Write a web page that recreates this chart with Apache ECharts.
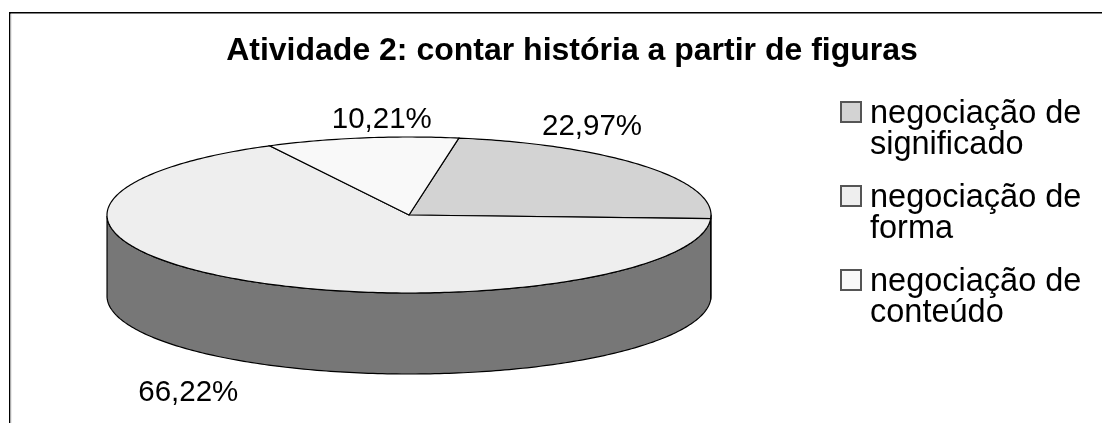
<!DOCTYPE html>
<html>
<head>
<meta charset="utf-8">
<title>Atividade 2</title>
<style>
html, body { margin: 0; padding: 0; background: #fff; }
#chart { width: 1102px; height: 423px; }
</style>
<script src="https://cdn.jsdelivr.net/npm/echarts@6/dist/echarts.min.js"></script>
</head>
<body>
<div id="chart"></div>
<script>
var categories = ['negociação de\nsignificado', 'negociação de\nforma', 'negociação de\nconteúdo'];
var values = [22.97, 66.22, 10.21];
var valueLabels = ['22,97%', '66,22%', '10,21%'];
var topColors = ['#d3d3d3', '#eeeeee', '#f9f9f9'];
var wallColors = ['#6a6a6a', '#777777', '#7c7c7c'];

// pixel offset of each label from the rim point at the middle of its slice
var labelOffsets = [[-52, -39], [-58, 112], [20, -18]];

var cx = 409, cy = 215, rx = 302, ry = 78, depth = 81;
var fontName = '"Liberation Sans", Arial, sans-serif';

var chart = echarts.init(document.getElementById('chart'));

// printed percentages only add up to 99.4, the angle axis spans their sum
var total = 0;
values.forEach(function (v) { total += v; });

// polar gives a true circle, squash it to the tilted ellipse afterwards
function tilt(p) {
    return [p[0], cy + (p[1] - cy) * ry / rx];
}

function makeRenderItem(index) {
    return function (params, api) {
        var start = api.value(0);
        var end = api.value(1);
        var rim = [];
        for (var v = start; v < end; v += 0.25) {
            rim.push(tilt(api.coord([1, v])));
        }
        rim.push(tilt(api.coord([1, end])));
        var top = [tilt(api.coord([0, start]))].concat(rim);

        var children = [];
        // side wall, only where the rim faces the viewer
        var front = rim.filter(function (p) {
            return p[1] >= cy;
        });
        if (front.length > 1) {
            var lower = front.map(function (p) {
                return [p[0], p[1] + depth];
            }).reverse();
            children.push({
                type: 'polygon',
                shape: { points: front.concat(lower) },
                style: { fill: wallColors[index], stroke: '#000', lineWidth: 1.2 }
            });
        }
        children.push({
            type: 'polygon',
            shape: { points: top },
            style: { fill: topColors[index], stroke: '#000', lineWidth: 1.2 }
        });
        var mid = tilt(api.coord([1, (start + end) / 2]));
        children.push({
            type: 'text',
            style: {
                text: valueLabels[index],
                x: mid[0] + labelOffsets[index][0],
                y: mid[1] + labelOffsets[index][1],
                fill: '#000',
                font: '29.5px ' + fontName,
                align: 'center',
                verticalAlign: 'middle'
            }
        });
        return { type: 'group', children: children };
    };
}

var seriesList = [];
var running = 0;
for (var i = 0; i < values.length; i++) {
    seriesList.push({
        name: categories[i],
        type: 'custom',
        coordinateSystem: 'polar',
        renderItem: makeRenderItem(i),
        itemStyle: { color: topColors[i], borderColor: '#555', borderWidth: 1 },
        silent: true,
        animation: false,
        clip: false,
        data: [[running, running + values[i]]],
        encode: { angle: 0 }
    });
    running += values[i];
}

var option = {
    backgroundColor: '#fff',
    animation: false,
    title: {
        text: 'Atividade 2: contar história a partir de figuras',
        left: 572,
        top: 35,
        padding: 0,
        textAlign: 'center',
        textStyle: { fontFamily: fontName, fontSize: 32, fontWeight: 'bold', color: '#000' }
    },
    legend: {
        orient: 'vertical',
        left: 840,
        top: 97.5,
        padding: 0,
        itemWidth: 20,
        itemHeight: 20,
        itemGap: 20,
        icon: 'rect',
        selectedMode: false,
        data: categories,
        // rich text so the top padding moves the lines down next to the box
        formatter: function (name) {
            return name.split('\n').map(function (line) {
                return '{t|' + line + '}';
            }).join('\n');
        },
        textStyle: {
            padding: [35, 0, 0, 4],
            rich: {
                t: { fontFamily: fontName, fontSize: 32.5, lineHeight: 31, color: '#000' }
            }
        }
    },
    polar: { center: [cx, cy], radius: rx },
    angleAxis: { type: 'value', min: 0, max: total, startAngle: 80.5, show: false },
    radiusAxis: { type: 'value', min: 0, max: 1, show: false },
    graphic: [
        {
            type: 'polyline',
            silent: true,
            shape: { points: [[9.75, 423], [9.75, 12.75], [1102, 12.75]] },
            style: { stroke: '#000', lineWidth: 1.5, fill: null }
        },
        {
            type: 'line',
            silent: true,
            shape: { x1: 11, y1: 14, x2: 11, y2: 423 },
            style: { stroke: '#d8d8d8', lineWidth: 1 }
        }
    ],
    series: seriesList
};
chart.setOption(option);
</script>
</body>
</html>
